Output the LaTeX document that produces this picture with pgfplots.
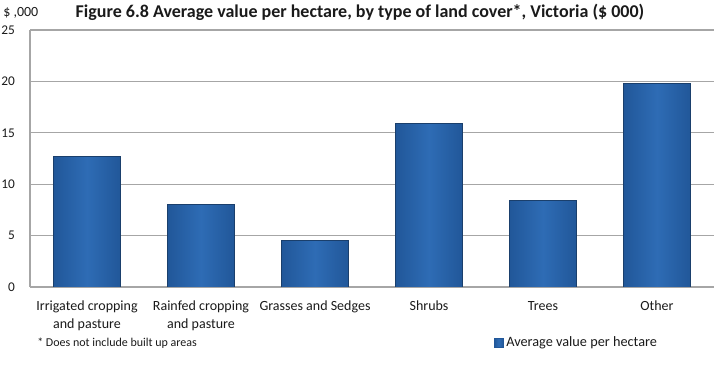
\documentclass[border=0pt]{standalone}
\usepackage{pgfplots}
\pgfplotsset{compat=1.18}
\usepackage{fontspec}
\setmainfont{Carlito}
\definecolor{bardark}{HTML}{215799}
\definecolor{barmid}{HTML}{2E6CB5}
\definecolor{barline}{HTML}{1A3F6C}
\definecolor{gridc}{HTML}{A6A6A6}
\definecolor{txt}{HTML}{1A1A1A}
\begin{document}
\begin{tikzpicture}
\path[use as bounding box] (-22.5pt,-59.25pt) rectangle (520.5pt,215.25pt);
\begin{axis}[
  at={(0pt,0pt)}, anchor=south west,
  scale only axis,
  width=513pt, height=192.75pt,
  xmin=-0.5, xmax=5.5, ymin=0, ymax=25,
  ytick={0,5,10,15,20,25},
  xtick={0,1,2,3,4,5},
  xticklabels={{Irrigated cropping\\and pasture},{Rainfed cropping\\and pasture},{Grasses and Sedges},{Shrubs},{Trees},{Other}},
  xticklabel style={align=center, font=\fontsize{10.5}{13.5}\selectfont, text=txt, yshift=-7pt},
  yticklabel style={font=\fontsize{10}{12}\selectfont, text=txt, xshift=-7.75pt},
  /pgf/number format/assume math mode=true,
  major tick length=0pt,
  axis x line*=bottom, axis y line*=left,
  axis line style={gridc, line width=0.8pt, -},
  ymajorgrids, grid style={gridc, line width=0.8pt},
  legend style={at={(0.678,-0.218)}, anchor=west, draw=none, fill=none, inner sep=0pt, font=\fontsize{10.7}{12}\selectfont, text=txt},
  legend image code/.code={\fill[bardark] (0pt,-3.4pt) rectangle (6.8pt,3.4pt);},
  barsty/.style={ybar, bar width=50.25pt, bar shift=0pt, draw=barline, line width=0.4pt,
  left color=bardark, right color=bardark, middle color=barmid},
]
\addplot[barsty] coordinates {(0,12.7)};
\addlegendentry{Average value per hectare}
\addplot[barsty, forget plot] coordinates {(1,8.05)};
\addplot[barsty, forget plot] coordinates {(2,4.5)};
\addplot[barsty, forget plot] coordinates {(3,15.95)};
\addplot[barsty, forget plot] coordinates {(4,8.45)};
\addplot[barsty, forget plot] coordinates {(5,19.8)};
\end{axis}
\node[font=\fontsize{13.5}{15}\selectfont\bfseries, text=txt] at (247.5pt,206.25pt) {Figure 6.8 Average value per hectare, by type of land cover*, Victoria (\$ 000)};
\node[font=\fontsize{10.5}{12}\selectfont, text=txt, anchor=west, inner sep=0pt] at (-20.25pt,205.5pt) {\$ ,000};
\node[font=\fontsize{9}{11}\selectfont, text=txt, anchor=west, inner sep=0pt] at (5.25pt,-42pt) {* Does not include built up areas};
\end{tikzpicture}
\end{document}
